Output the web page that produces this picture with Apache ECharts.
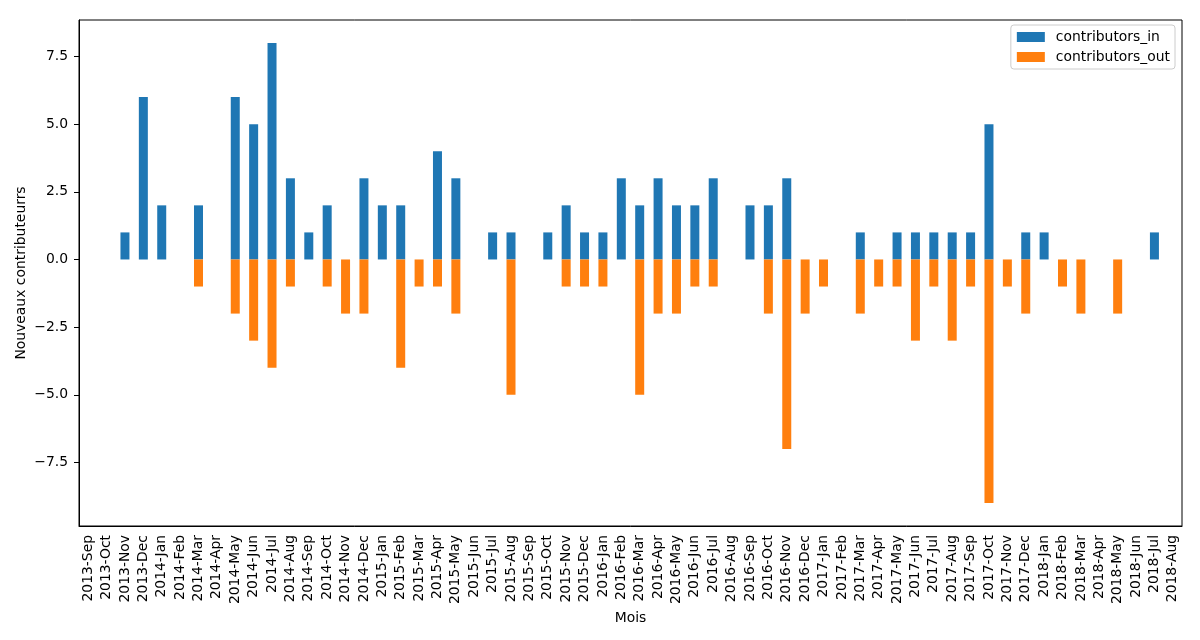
<!DOCTYPE html>
<html>
<head>
<meta charset="utf-8">
<script src="https://cdn.jsdelivr.net/npm/echarts@6/dist/echarts.min.js"></script>
<style>html,body{margin:0;padding:0;background:#fff}#c{width:1200px;height:640px}</style>
</head>
<body>
<div id="c"></div>
<script>
const months = ['2013-Sep','2013-Oct','2013-Nov','2013-Dec','2014-Jan','2014-Feb','2014-Mar','2014-Apr','2014-May','2014-Jun','2014-Jul','2014-Aug','2014-Sep','2014-Oct','2014-Nov','2014-Dec','2015-Jan','2015-Feb','2015-Mar','2015-Apr','2015-May','2015-Jun','2015-Jul','2015-Aug','2015-Sep','2015-Oct','2015-Nov','2015-Dec','2016-Jan','2016-Feb','2016-Mar','2016-Apr','2016-May','2016-Jun','2016-Jul','2016-Aug','2016-Sep','2016-Oct','2016-Nov','2016-Dec','2017-Jan','2017-Feb','2017-Mar','2017-Apr','2017-May','2017-Jun','2017-Jul','2017-Aug','2017-Sep','2017-Oct','2017-Nov','2017-Dec','2018-Jan','2018-Feb','2018-Mar','2018-Apr','2018-May','2018-Jun','2018-Jul','2018-Aug'];
const contributorsIn = [0,0,1,6,2,0,2,0,6,5,8,3,1,2,0,3,2,2,0,4,3,0,1,1,0,1,2,1,1,3,2,3,2,2,3,0,2,2,3,0,0,0,1,0,1,1,1,1,1,5,0,1,1,0,0,0,0,0,1,0];
const contributorsOut = [0,0,0,0,0,0,-1,0,-2,-3,-4,-1,0,-1,-2,-2,0,-4,-1,-1,-2,0,0,-5,0,0,-1,-1,-1,0,-5,-2,-2,-1,-1,0,0,-2,-7,-2,-1,0,-2,-1,-1,-3,-1,-3,-1,-9,-1,-2,0,-1,-2,0,-2,0,0,0];
const yTicks = [-7.5,-5,-2.5,0,2.5,5,7.5];

const font = 'DejaVu Sans';
const fs = 13.9;
const chart = echarts.init(document.getElementById('c'), null, {renderer:'canvas'});
chart.setOption({
  animation: false,
  backgroundColor: '#fff',
  textStyle: {fontFamily: font},
  grid: {left: 79, right: 18, top: 20, bottom: 114, show: true, borderColor: '#000', borderWidth: 1, backgroundColor: 'transparent'},
  legend: {
    orient: 'vertical', right: 25, top: 25,
    itemWidth: 28, itemHeight: 10, itemGap: 6,
    padding: [5, 5, 5, 6],
    borderColor: '#cccccc', borderWidth: 1, borderRadius: 3,
    backgroundColor: 'rgba(255,255,255,0.8)',
    textStyle: {fontFamily: font, fontSize: fs, color: '#000', padding: [0,0,0,6]},
    data: [{name:'contributors_in', icon:'rect'}, {name:'contributors_out', icon:'rect'}]
  },
  xAxis: {
    type: 'category', data: months,
    name: 'Mois', nameLocation: 'middle', nameGap: 85, nameMoveOverlap: false,
    nameTextStyle: {fontFamily: font, fontSize: fs, color: '#000'},
    axisLine: {onZero: false, lineStyle: {color: '#000', width: 1}},
    axisTick: {alignWithLabel: true, length: 5, lineStyle: {color: '#000'}},
    axisLabel: {rotate: 90, interval: 0, margin: 9, fontFamily: font, fontSize: fs, color: '#000'},
    splitLine: {show: false}
  },
  yAxis: {
    type: 'value', min: -9.85, max: 8.85,
    name: 'Nouveaux contributeurrs', nameLocation: 'middle', nameGap: 51, nameMoveOverlap: false,
    nameTextStyle: {fontFamily: font, fontSize: fs, color: '#000'},
    axisLine: {show: true, lineStyle: {color: '#000', width: 1}},
    axisTick: {show: true, length: 5, lineStyle: {color: '#000'}, customValues: yTicks},
    axisLabel: {margin: 11, fontFamily: font, fontSize: fs, color: '#000', customValues: yTicks,
      formatter: v => v.toFixed(1).replace('-', '\u2212')},
    splitLine: {show: false}
  },
  series: [
    {name: 'contributors_in', type: 'bar', data: contributorsIn, barWidth: 9, barGap: '-100%', itemStyle: {color: '#1f77b4'}},
    {name: 'contributors_out', type: 'bar', data: contributorsOut, barWidth: 9, barGap: '-100%', itemStyle: {color: '#ff7f0e'}}
  ]
});
</script>
</body>
</html>
